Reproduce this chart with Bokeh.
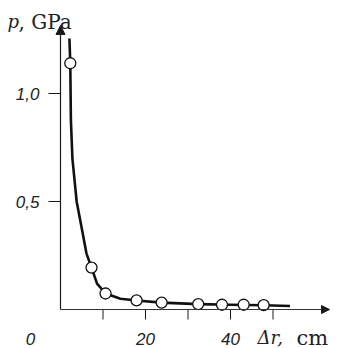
from bokeh.plotting import figure
from bokeh.models import Range1d, Label, Arrow, NormalHead
from bokeh.embed import file_html
from bokeh.resources import INLINE

# ---- data ----
pts_dr = [2.3, 7.3, 10.6, 17.9, 23.8, 32.4, 38.0, 43.1, 47.8]
pts_p = [1.14, 0.194, 0.074, 0.042, 0.032, 0.025, 0.022, 0.022, 0.020]

curve_dr = [2.1, 2.3, 2.45, 2.8, 3.8, 5.1, 6.1, 7.3, 8.6, 10.6, 14.1, 17.9, 23.8, 32.4, 40.0, 48.0, 54.0]
curve_p = [1.255, 1.14, 0.875, 0.70, 0.50, 0.366, 0.26, 0.194, 0.12, 0.074, 0.050, 0.042, 0.032, 0.025, 0.022, 0.020, 0.016]

x_ticks = [10, 20, 30, 40, 50]
x_tick_labels = {20: "20", 40: "40"}
origin_label = "0"
y_ticks = [0.5, 1.0]
y_tick_labels = {0.5: "0,5", 1.0: "1,0"}

x_title_sym = "\u0394r,"
x_title_unit = "cm"
y_title_sym = "p"
y_title_unit = ", GPa"

# ---- layout (pixel scale of the drawing) ----
W, H = 356, 348
X0_PX, Y0_PX = 60, 309          # pixel position of the origin
SX, SY = 4.25, 216.0            # pixels per unit
x_rng = Range1d(-X0_PX / SX, (W - X0_PX) / SX)
y_rng = Range1d((Y0_PX - H) / SY, Y0_PX / SY)

p = figure(width=W, height=H, output_backend="svg", toolbar_location=None,
           x_range=x_rng, y_range=y_rng, x_axis_type=None, y_axis_type=None,
           min_border=0)
p.outline_line_color = None
p.grid.visible = False
p.background_fill_color = "white"
p.border_fill_color = "white"

ink = "#1a1a1a"

# axes as arrows
p.add_layout(Arrow(end=NormalHead(size=9, fill_color=ink, line_color=ink),
                   x_start=0, y_start=0, x_end=0, y_end=1.315,
                   line_color=ink, line_width=1.2))
p.add_layout(Arrow(end=NormalHead(size=8, fill_color=ink, line_color=ink),
                   x_start=0, y_start=0, x_end=63.3, y_end=0,
                   line_color="#333333", line_width=1.1))

# tick marks
xt_len = 10 / SY
yt_len = 12 / SX
p.segment(x0=x_ticks, y0=[0] * len(x_ticks), x1=x_ticks, y1=[-xt_len] * len(x_ticks),
          line_color=ink, line_width=1)
p.segment(x0=[0] * len(y_ticks), y0=y_ticks, x1=[-yt_len] * len(y_ticks), y1=y_ticks,
          line_color=ink, line_width=1)

# curve and points
p.line(curve_dr, curve_p, line_color="#111111", line_width=2.6, line_join="round")
p.scatter(pts_dr, pts_p, size=11, marker="circle", fill_color="white",
          line_color="#111111", line_width=1.3)

# tick labels
tick_font = dict(text_font="Liberation Sans", text_font_style="italic",
                 text_font_size="17px", text_color="#222222")
for t, s in x_tick_labels.items():
    p.add_layout(Label(x=t, y=0, y_offset=-29, text=s, text_align="center",
                       text_baseline="alphabetic", **tick_font))
p.add_layout(Label(x=0, y=0, x_offset=-30, y_offset=-29, text=origin_label,
                   text_align="center", text_baseline="alphabetic", **tick_font))
for t, s in y_tick_labels.items():
    p.add_layout(Label(x=0, y=t, x_offset=-21, text=s, text_align="right",
                       text_baseline="middle", **tick_font))

# axis titles
p.add_layout(Label(x=0, y=0, x_offset=197, y_offset=-28, text=x_title_sym,
                   text_font="DejaVu Serif", text_font_style="italic",
                   text_font_size="18px", text_color="#222222",
                   text_align="left", text_baseline="alphabetic"))
p.add_layout(Label(x=0, y=0, x_offset=236, y_offset=-28, text=x_title_unit,
                   text_font="DejaVu Serif", text_font_size="21px",
                   text_color="#222222", text_align="left", text_baseline="alphabetic"))
p.add_layout(Label(x=0, y=0, x_offset=-53, y_offset=288, text=y_title_sym,
                   text_font="DejaVu Serif", text_font_style="italic",
                   text_font_size="18px", text_color="#222222",
                   text_align="left", text_baseline="alphabetic"))
p.add_layout(Label(x=0, y=0, x_offset=-42, y_offset=288, text=y_title_unit,
                   text_font="DejaVu Serif", text_font_size="20px",
                   text_color="#222222", text_align="left", text_baseline="alphabetic"))

open("out.html", "w").write(file_html(p, INLINE))
